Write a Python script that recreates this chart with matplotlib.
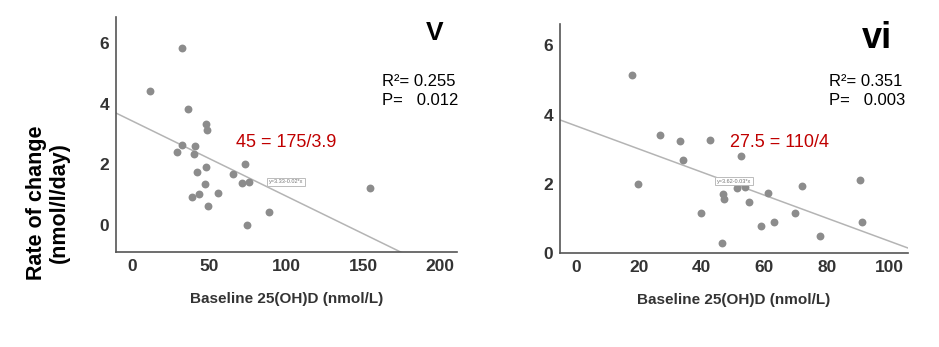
import numpy as np
import matplotlib
matplotlib.use("Agg")
import matplotlib.pyplot as plt

plt.rcParams['font.family'] = ['Liberation Sans', 'DejaVu Sans']

# Panel v
v_x = [32.0, 11.5, 36.3, 47.8, 48.2, 32.0, 40.6, 29.2, 40.0, 73.1, 47.8, 41.7,
       65.1, 71.4, 75.7, 47.1, 55.4, 43.5, 38.9, 49.3, 88.6, 74.6, 154.2]
v_y = [5.84, 4.41, 3.82, 3.34, 3.12, 2.64, 2.62, 2.40, 2.33, 2.00, 1.91, 1.76,
       1.69, 1.37, 1.42, 1.34, 1.07, 1.01, 0.91, 0.64, 0.43, 0.00, 1.23]
v_fit = (3.43, -0.0248)          # intercept, slope of drawn line
v_eq = "y=3.33-0.02*x"
v_stats = "R²= 0.255\nP=   0.012"
v_note = "45 = 175/3.9"
v_xticks = [0, 50, 100, 150, 200]
v_yticks = [0, 2, 4, 6]

# Panel vi
vi_x = [17.8, 26.8, 33.0, 42.6, 34.0, 52.4, 19.5, 90.6, 71.9, 51.4, 53.7, 61.1,
        46.8, 47.1, 55.1, 39.9, 69.7, 58.8, 63.2, 91.3, 77.9, 46.4]
vi_y = [5.14, 3.42, 3.25, 3.28, 2.70, 2.81, 2.00, 2.11, 1.93, 1.88, 1.91, 1.74,
        1.70, 1.55, 1.48, 1.15, 1.16, 0.77, 0.90, 0.91, 0.49, 0.28]
vi_fit = (3.67, -0.0333)
vi_eq = "y=3.62-0.03*x"
vi_stats = "R²= 0.351\nP=   0.003"
vi_note = "27.5 = 110/4"
vi_xticks = [0, 20, 40, 60, 80, 100]
vi_yticks = [0, 2, 4, 6]

W, H = 939, 347
fig = plt.figure(figsize=(W / 100, H / 100), dpi=100)
narrow = ['Liberation Sans Narrow', 'Liberation Sans', 'DejaVu Sans']


def px(x, y):
    return x / W, 1 - y / H


def panel(rect, xs, ys, fit, xlim, ylim, xticks, yticks):
    l, t, r, b = rect
    ax = fig.add_axes([l / W, 1 - b / H, (r - l) / W, (b - t) / H])
    ax.scatter(xs, ys, s=32, color='#8c8c8c', zorder=3, linewidths=0)
    lx = np.array(xlim)
    ax.plot(lx, fit[0] + fit[1] * lx, color='#b4b4b4', lw=1.1, zorder=2)
    ax.set_xlim(xlim)
    ax.set_ylim(ylim)
    ax.set_xticks(xticks)
    ax.set_yticks(yticks)
    for s in ['top', 'right']:
        ax.spines[s].set_visible(False)
    for s in ['left', 'bottom']:
        ax.spines[s].set_color('#555555')
        ax.spines[s].set_linewidth(1.2)
    ax.tick_params(length=0, labelsize=12.5, labelcolor='#333333', pad=5)
    for lab in ax.get_xticklabels() + ax.get_yticklabels():
        lab.set_fontweight('bold')
        lab.set_family(narrow)
    ax.set_xlabel("Baseline 25(OH)D (nmol/L)", fontsize=11, fontweight='bold',
                  color='#333333', labelpad=13)
    return ax


ax1 = panel((116, 17, 457, 252), v_x, v_y, v_fit, (-10.6, 210.8), (-0.89, 6.86),
            v_xticks, v_yticks)
ax2 = panel((560, 24, 908, 253), vi_x, vi_y, vi_fit, (-5.3, 105.9), (0, 6.62),
            vi_xticks, vi_yticks)

# panel letters
fig.text(*px(435, 33), "V", fontsize=19, fontweight='bold', ha='center', va='center')
fig.text(*px(877, 38), "vi", fontsize=26, fontweight='bold', ha='center', va='center')

# stats
fig.text(*px(382, 91), v_stats, fontsize=12, ha='left', va='center', linespacing=1.35)
fig.text(*px(829, 91), vi_stats, fontsize=12, ha='left', va='center', linespacing=1.35)

# red notes
fig.text(*px(286, 142), v_note, fontsize=13, color='#c00000', ha='center', va='center')
fig.text(*px(780, 142), vi_note, fontsize=13, color='#c00000', ha='center', va='center')

# small equation boxes
box = dict(boxstyle='square,pad=0.3', fc='white', ec='#bbbbbb', lw=0.7)
fig.text(*px(286, 182), v_eq, fontsize=4, color='#777777', ha='center', va='center', bbox=box)
fig.text(*px(734, 181), vi_eq, fontsize=4, color='#777777', ha='center', va='center', bbox=box)

# shared y label
fig.text(*px(48, 203), "Rate of change\n(nmol/l/day)", fontsize=15.5, fontweight='bold',
         rotation=90, ha='center', va='center', linespacing=1.1)

fig.savefig("out.png", dpi=100)
